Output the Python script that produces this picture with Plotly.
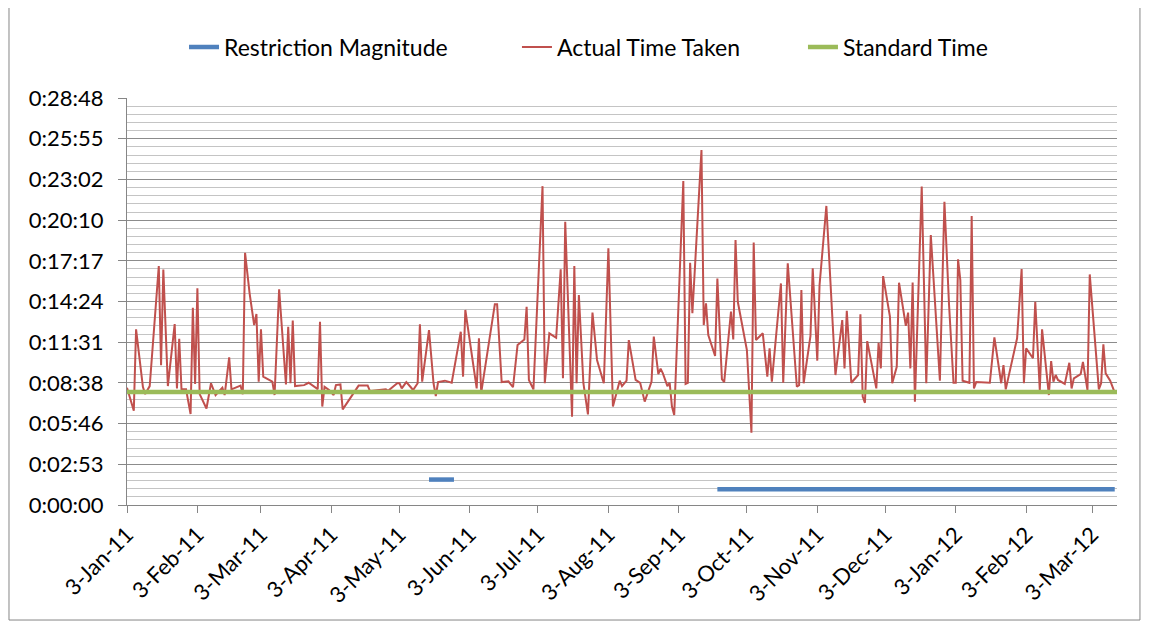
import pandas as pd
import plotly.graph_objects as go

START = pd.Timestamp("2011-01-03")

# Actual Time Taken: day offset from 3-Jan-11, duration in seconds
actual_days = [0, 1, 3, 4, 7, 8, 10, 14, 15, 16, 18, 21, 22, 23, 24, 26, 28, 29, 30, 31,
               32, 35, 37, 39, 42, 43, 45, 46, 50, 51, 52, 54, 56, 57, 58, 59, 60, 64, 65, 67,
               70, 71, 72, 73, 74, 78, 80, 84, 85, 86, 87, 89, 91, 92, 94, 95, 99, 102, 106, 107,
               114, 115, 119, 120, 121, 123, 125, 126, 128, 129, 130, 133, 135, 136, 137, 140, 143, 147, 148, 149,
               154, 155, 156, 162, 163, 165, 168, 170, 172, 175, 176, 177, 179, 183, 184, 186, 189, 191, 192, 193,
               196, 197, 198, 199, 201, 203, 205, 207, 210, 212, 214, 217, 218, 220, 221, 224, 226, 228, 231, 232,
               234, 235, 236, 238, 239, 240, 241, 245, 246, 247, 248, 249, 253, 254, 255, 256, 259, 260, 262, 263,
               266, 267, 268, 269, 273, 275, 276, 277, 280, 282, 283, 284, 288, 289, 291, 295, 296, 297, 298, 301,
               302, 304, 305, 308, 312, 315, 316, 317, 319, 322, 323, 324, 325, 326, 330, 331, 332, 333, 336, 337,
               339, 340, 343, 344, 345, 346, 347, 350, 352, 354, 358, 360, 362, 364, 365, 366, 367, 368, 371, 372,
               373, 374, 380, 382, 385, 386, 387, 392, 394, 395, 396, 399, 400, 402, 403, 406, 407, 408, 409, 410,
               413, 415, 416, 417, 420, 421, 423, 424, 428, 429, 430, 431, 433, 435]
actual_secs = [498, 463, 400, 746, 502, 471, 505, 1015, 594, 1000, 505, 768, 495, 706, 491, 491, 386, 838, 514, 920,
               471, 410, 517, 467, 498, 467, 627, 491, 507, 470, 1071, 899, 764, 811, 524, 746, 545, 524, 467, 916,
               512, 757, 517, 783, 505, 509, 519, 492, 778, 418, 502, 488, 467, 509, 512, 406, 467, 507, 507, 484,
               491, 485, 517, 517, 495, 522, 500, 488, 517, 767, 524, 743, 517, 463, 522, 528, 519, 736, 545, 828,
               495, 708, 477, 853, 853, 522, 525, 500, 679, 703, 842, 531, 491, 1354, 517, 729, 710, 1001, 538, 1203,
               375, 1015, 517, 892, 517, 385, 817, 616, 517, 1090, 418, 528, 505, 528, 700, 531, 519, 439, 524, 715,
               556, 579, 559, 505, 519, 418, 382, 1376, 514, 519, 1029, 814, 1507, 764, 856, 722, 633, 962, 534, 522,
               821, 703, 1125, 863, 658, 307, 1115, 701, 729, 545, 665, 524, 941, 519, 1026, 502, 509, 913, 517, 718,
               1005, 613, 934, 1270, 552, 785, 580, 825, 519, 552, 810, 460, 434, 696, 495, 689, 580, 972, 800, 517,
               587, 944, 761, 817, 580, 945, 439, 1352, 517, 1146, 528, 1288, 856, 519, 519, 1043, 955, 528, 519, 1227,
               495, 522, 519, 712, 517, 594, 491, 708, 1002, 517, 665, 623, 863, 488, 746, 467, 611, 524, 552, 531,
               514, 604, 495, 538, 556, 608, 488, 979, 491, 517, 682, 559, 528, 477]

# Restriction Magnitude (two periods, gap between)
restr_days = [133, 144, None, 260, 435]
restr_secs = [108, 108, None, 67, 67]

# Standard Time
std_days = [0, 436]
std_secs = [480, 480]

# Axis labels
y_tick_secs = [0, 172.8, 345.6, 518.4, 691.2, 864, 1036.8, 1209.6, 1382.4, 1555.2, 1728]
y_tick_text = ["0:00:00", "0:02:53", "0:05:46", "0:08:38", "0:11:31", "0:14:24",
               "0:17:17", "0:20:10", "0:23:02", "0:25:55", "0:28:48"]
x_tick_dates = ["2011-01-03", "2011-02-03", "2011-03-03", "2011-04-03", "2011-05-03",
                "2011-06-03", "2011-07-03", "2011-08-03", "2011-09-03", "2011-10-03",
                "2011-11-03", "2011-12-03", "2012-01-03", "2012-02-03", "2012-03-03"]
x_tick_text = ["3-Jan-11", "3-Feb-11", "3-Mar-11", "3-Apr-11", "3-May-11", "3-Jun-11",
               "3-Jul-11", "3-Aug-11", "3-Sep-11", "3-Oct-11", "3-Nov-11", "3-Dec-11",
               "3-Jan-12", "3-Feb-12", "3-Mar-12"]


def to_dates(days):
    return [None if d is None else START + pd.Timedelta(days=d) for d in days]


fig = go.Figure()
fig.add_trace(go.Scatter(x=to_dates(restr_days), y=restr_secs, mode="lines",
                         name="Restriction Magnitude", connectgaps=False, legend="legend",
                         line=dict(color="#4F81BD", width=4.5)))
fig.add_trace(go.Scatter(x=to_dates(actual_days), y=actual_secs, mode="lines",
                         name="Actual Time Taken", legend="legend2",
                         line=dict(color="#C0504D", width=2)))
fig.add_trace(go.Scatter(x=to_dates(std_days), y=std_secs, mode="lines",
                         name="Standard Time", legend="legend3",
                         line=dict(color="#9BBB59", width=4.5)))

FONT = "Lato, 'Open Sans', sans-serif"
leg_common = dict(orientation="h", xanchor="left", y=1.125, yanchor="middle",
                  font=dict(size=23, family=FONT, color="black"),
                  bgcolor="rgba(0,0,0,0)")
fig.update_layout(
    width=1141, height=616,
    margin=dict(l=119, r=32, t=90, b=119),
    paper_bgcolor="white", plot_bgcolor="white",
    font=dict(family=FONT, size=22, color="black"),
    showlegend=True,
    legend=dict(x=0.0576, **leg_common),
    legend2=dict(x=0.3939, **leg_common),
    legend3=dict(x=0.6828, **leg_common),
    xaxis=dict(type="date",
               range=[START, START + pd.Timedelta(days=436)],
               tickvals=pd.to_datetime(x_tick_dates), ticktext=x_tick_text,
               tickangle=-45, showgrid=False, zeroline=False,
               showline=True, linecolor="#868686", linewidth=1,
               ticks="outside", ticklen=7, tickcolor="#868686",
               tickfont=dict(size=22)),
    yaxis=dict(range=[0, 1728.3], tickvals=y_tick_secs, ticktext=y_tick_text,
               showgrid=True, gridcolor="#8C8C8C", gridwidth=1, zeroline=False,
               showline=True, linecolor="#868686", linewidth=1,
               ticks="outside", ticklen=8, tickcolor="#868686",
               ticklabelstandoff=10, tickfont=dict(size=22),
               minor=dict(dtick=34.56, tick0=0, showgrid=True,
                          gridcolor="#C4C4C4", gridwidth=1, ticks="")),
    shapes=[dict(type="rect", xref="paper", yref="paper",
                 x0=-0.1192, x1=1.0232, y0=-0.2826, y1=1.231,
                 line=dict(color="#868686", width=1), layer="below")],
)

fig.write_html("out.html")
